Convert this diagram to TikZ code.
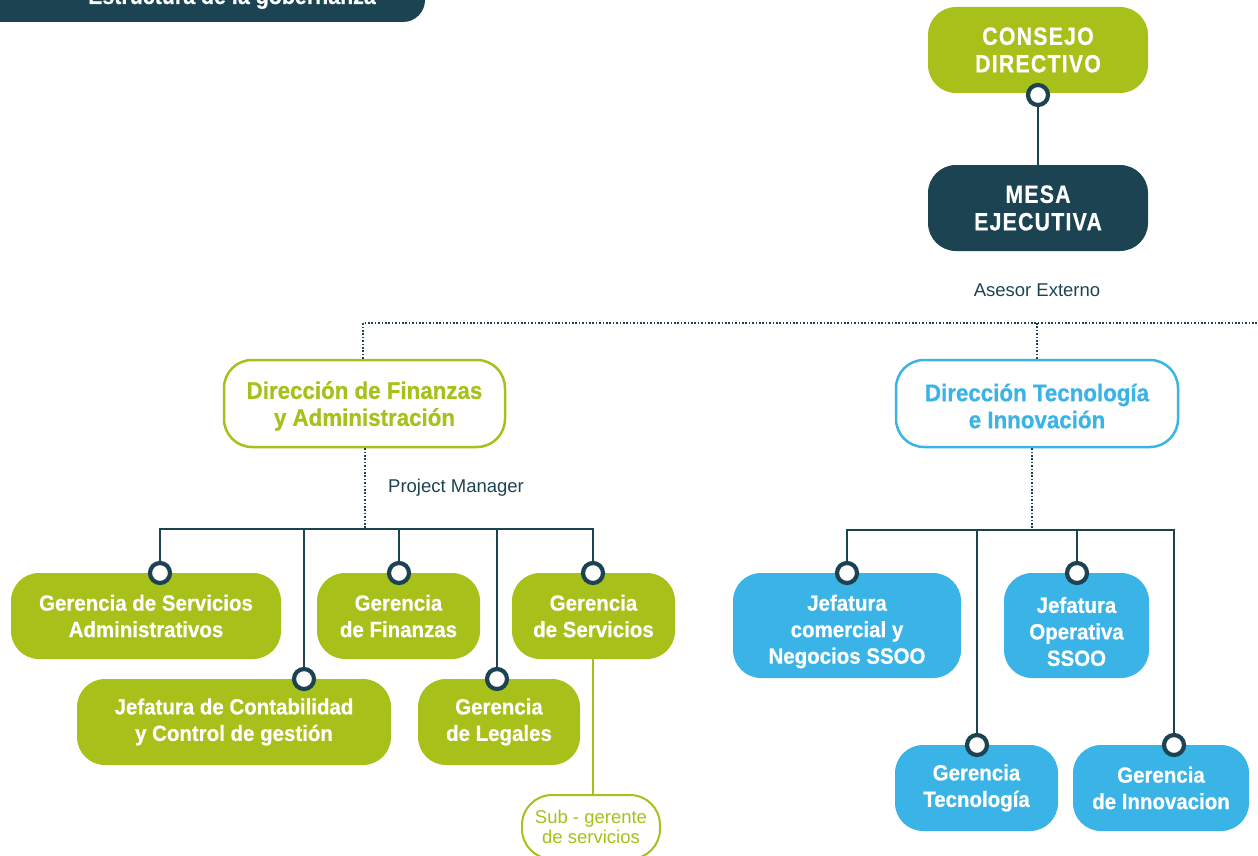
\documentclass[tikz,border=0pt]{standalone}
\usepackage{fontspec}
\setmainfont{Liberation Sans}
\newfontfamily\bfont[FakeStretch=0.93,FakeBold=0.6]{Liberation Sans}
\newfontfamily\tfont[FakeStretch=0.85,LetterSpace=5,FakeBold=0.6]{Liberation Sans}
\definecolor{ogreen}{HTML}{A7C01A}
\definecolor{odark}{HTML}{1C4351}
\definecolor{oblue}{HTML}{3AB4E6}
\begin{document}
\begin{tikzpicture}[x=1pt,y=-1pt,
 box/.style={rounded corners=28pt, inner sep=0pt, align=center, text=white, font=\bfont\bfseries\fontsize{22}{26.5}\selectfont},
 gbox/.style={box, fill=ogreen, minimum height=86pt},
 bbox/.style={box, fill=oblue},
 topbox/.style={box, minimum width=220pt, minimum height=86pt, font=\tfont\bfseries\fontsize{25}{27.5}\selectfont},
 obox/.style={box, fill=white, line width=2.5pt, minimum width=281pt, minimum height=87pt},
 dot/.style={circle, draw=odark, fill=white, line width=4.2pt, minimum size=20pt, inner sep=0pt},
 conn/.style={draw=odark, line width=2.5pt},
 dots/.style={draw=odark, line width=1.6pt, dash pattern=on 1.6pt off 1.8pt},
 lbl/.style={text=odark, font=\fontsize{18.5}{22}\selectfont, inner sep=0pt},
 btext/.style={inner sep=0pt, align=center, text=white, font=\bfont\bfseries\fontsize{22}{26.5}\selectfont},
 otext/.style={btext, font=\bfont\bfseries\fontsize{24}{27}\selectfont}
]
\useasboundingbox (0,0) rectangle (1258,856);
\clip (0,0) rectangle (1258,856);

% header
\fill[odark, rounded corners=22pt] (-40,-40) rectangle (425,22);
\node[anchor=base east, inner sep=0pt, text=white, font=\bfont\bfseries\fontsize{23}{26}\selectfont] (hdr) at (376,4) {Estructura de la gobernanza};

% top boxes
\node[topbox, fill=ogreen] (cd) at (1038,50) {CONSEJO\\DIRECTIVO};
\node[topbox, fill=odark] (me) at (1038,208) {MESA\\EJECUTIVA};
\node[lbl] (ase) at (1037,290) {Asesor Externo};

% direcciones
\node[obox, draw=ogreen] (dfa) at (364.5,403.5) {};
\node[otext, text=ogreen] (dfat) at (364.5,406) {Dirección de Finanzas\\y Administración};
\node[obox, draw=oblue, minimum width=282pt] (dti) at (1037,403.5) {};
\node[otext, text=oblue] (dtit) at (1037,406) {Dirección Tecnología\\e Innovación};
\node[lbl, anchor=west] (pmg) at (388,488) {Project Manager};

% green boxes
\node[gbox, minimum width=270pt] (g1) at (146,616) {Gerencia de Servicios\\Administrativos};
\node[gbox, minimum width=163pt] (g2) at (398.5,616) {Gerencia\\de Finanzas};
\node[gbox, minimum width=163pt] (g3) at (593.5,616) {Gerencia\\de Servicios};
\node[gbox, minimum width=314pt] (g4) at (234,722) {Jefatura de Contabilidad\\y Control de gestión};
\node[gbox, minimum width=162pt] (g5) at (499,722) {Gerencia\\de Legales};
\node[box, fill=white, draw=ogreen, line width=2pt, text=ogreen, rounded corners=30pt, minimum width=138pt, minimum height=64pt, font=\fontsize{18.5}{20}\selectfont] (sub) at (591,827) {Sub - gerente\\de servicios};

% blue boxes
\node[bbox, minimum width=228pt, minimum height=105pt] (b1) at (847,625.5) {};
\node[btext] (b1t) at (847,631.5) {Jefatura\\comercial y\\Negocios SSOO};
\node[bbox, minimum width=145pt, minimum height=105pt] (b2) at (1076.5,625.5) {};
\node[btext] (b2t) at (1076.5,631.5) {Jefatura\\Operativa\\SSOO};
\node[bbox, minimum width=163pt, minimum height=86pt] (b3) at (976.5,788) {Gerencia\\Tecnología};
\node[bbox, minimum width=176pt, minimum height=86pt] (b4) at (1161,788) {Gerencia\\de Innovacion};

% coordinates
\coordinate (ae) at (1037,323);
\coordinate (re) at (1258,323);
\coordinate (pmj) at (365,529);
\coordinate (tij) at (1032,530);
\coordinate (cdp) at (1038,95);
\coordinate (p1) at (160,573);
\coordinate (p2) at (399,573);
\coordinate (p3) at (593,573);
\coordinate (p4) at (304,679);
\coordinate (p5) at (497,679);
\coordinate (q1) at (847,573);
\coordinate (q2) at (1077,573);
\coordinate (q3) at (977,745);
\coordinate (q4) at (1174,745);

% connectors
\draw[conn] (cdp) -- (me.north);
\draw[dots] (dfa.north -| 363,0) -- (363,323) -- (ae) -- (re);
\draw[dots] (ae) -- (dti.north -| ae);
\draw[dots] (dfa.south -| pmj) -- (pmj);
\draw[dots] (dti.south -| tij) -- (tij);
\draw[conn] (p1) -- (p1 |- pmj) -- (p3 |- pmj) -- (p3);
\draw[conn] (p2) -- (p2 |- pmj);
\draw[conn] (p4) -- (p4 |- pmj);
\draw[conn] (p5) -- (p5 |- pmj);
\draw[conn] (q1) -- (q1 |- tij) -- (q4 |- tij) -- (q4);
\draw[conn] (q2) -- (q2 |- tij);
\draw[conn] (q3) -- (q3 |- tij);
\draw[draw=ogreen, line width=2.5pt] (g3.south -| p3) -- (sub.north -| p3);

% dots
\node[dot] (dcd) at (cdp) {};
\node[dot] (d1) at (p1) {};
\node[dot] (d2) at (p2) {};
\node[dot] (d3) at (p3) {};
\node[dot] (d4) at (p4) {};
\node[dot] (d5) at (p5) {};
\node[dot] (e1) at (q1) {};
\node[dot] (e2) at (q2) {};
\node[dot] (e3) at (q3) {};
\node[dot] (e4) at (q4) {};
\end{tikzpicture}
\end{document}
